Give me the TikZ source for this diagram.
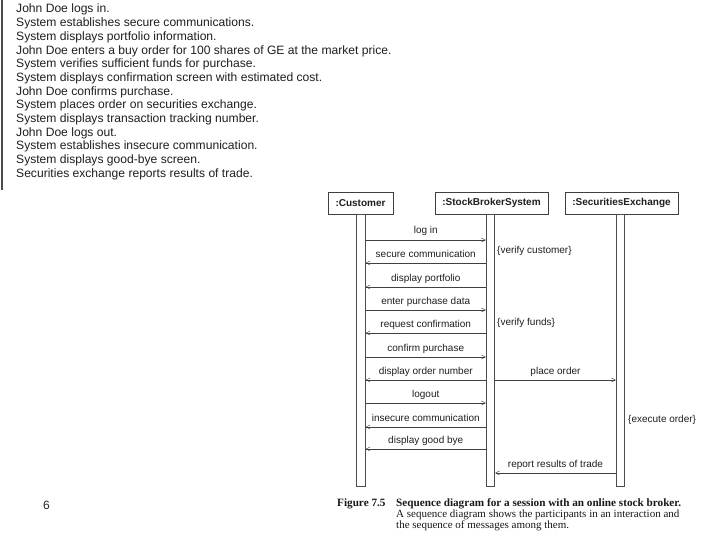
\documentclass[tikz,border=0pt]{standalone}
\usepackage{fontspec}
\setmainfont{Liberation Sans}
\newfontfamily\capfont{Liberation Serif}
\usetikzlibrary{arrows.meta}
\begin{document}
\begin{tikzpicture}[x=1pt,y=-1pt,
  txt/.style={anchor=base west, inner sep=0, font=\fontsize{12.1}{13}\selectfont, text=black!88},
  obj/.style={draw=black!75, line width=0.6pt, minimum height=22pt, inner sep=0, font=\bfseries\fontsize{10}{10}\selectfont, text=black!88},
  bar/.style={draw=black!70, line width=0.6pt, minimum width=8.5pt, minimum height=272pt, inner sep=0},
  msg/.style={draw=black!75, line width=0.5pt, -{Straight Barb[length=4pt,width=4pt]}},
  lbl/.style={font=\fontsize{10}{10}\selectfont, text=black!88, inner sep=0, anchor=base},
  note/.style={font=\fontsize{10}{10}\selectfont, text=black!88, inner sep=0, anchor=base west},
  captxt/.style={font=\capfont\fontsize{11}{11}\selectfont, inner sep=0, anchor=base west, text=black!90},
  capbold/.style={font=\capfont\bfseries\fontsize{11.2}{11}\selectfont, inner sep=0, anchor=base west, text=black!90}
]
\useasboundingbox (0,0) rectangle (720,540);
\fill[white] (0,0) rectangle (720,540);
% left text block
\draw[black!70, line width=1.2pt] (2,0) -- (2,190);
\foreach \t [count=\i from 0] in {
  John Doe logs in.,
  System establishes secure communications.,
  System displays portfolio information.,
  John Doe enters a buy order for 100 shares of GE at the market price.,
  System verifies sufficient funds for purchase.,
  System displays confirmation screen with estimated cost.,
  John Doe confirms purchase.,
  System places order on securities exchange.,
  System displays transaction tracking number.,
  John Doe logs out.,
  System establishes insecure communication.,
  System displays good-bye screen.,
  Securities exchange reports results of trade.}
  \node[txt] (line\i) at (16, 13+13.7*\i) {\t};
% objects
\node[obj, minimum width=65pt] (cust) at (360.5,203) {:Customer};
\node[obj, minimum width=113pt] (sbs) at (491.5,203) {:StockBrokerSystem};
\node[obj, minimum width=113pt] (sec) at (621.5,203) {:SecuritiesExchange};
% activation bars
\node[bar] (cbar) at (361,350) {};
\node[bar] (sbar) at (490.5,350) {};
\node[bar] (ebar) at (620.5,350) {};
% messages
\draw[msg] (cbar.east |- 0,240) -- (sbar.west |- 0,240) node[lbl, midway, above=6.5pt, anchor=base] {log in};
\draw[msg] (sbar.west |- 0,263) -- (cbar.east |- 0,263) node[lbl, midway, above=6pt, anchor=base] {secure communication};
\draw[msg] (sbar.west |- 0,287) -- (cbar.east |- 0,287) node[lbl, midway, above=6pt, anchor=base] {display portfolio};
\draw[msg] (cbar.east |- 0,310) -- (sbar.west |- 0,310) node[lbl, midway, above=6pt, anchor=base] {enter purchase data};
\draw[msg] (sbar.west |- 0,333) -- (cbar.east |- 0,333) node[lbl, midway, above=6pt, anchor=base] {request confirmation};
\draw[msg] (cbar.east |- 0,357) -- (sbar.west |- 0,357) node[lbl, midway, above=6pt, anchor=base] {confirm purchase};
\draw[msg] (sbar.west |- 0,380) -- (cbar.east |- 0,380) node[lbl, midway, above=6pt, anchor=base] {display order number};
\draw[msg] (sbar.east |- 0,380) -- (ebar.west |- 0,380) node[lbl, midway, above=6pt, anchor=base] {place order};
\draw[msg] (cbar.east |- 0,403) -- (sbar.west |- 0,403) node[lbl, midway, above=6pt, anchor=base] {logout};
\draw[msg] (sbar.west |- 0,427) -- (cbar.east |- 0,427) node[lbl, midway, above=6pt, anchor=base] {insecure communication};
\draw[msg] (sbar.west |- 0,449) -- (cbar.east |- 0,449) node[lbl, midway, above=6pt, anchor=base] {display good bye};
\draw[msg] (ebar.west |- 0,473) -- (sbar.east |- 0,473) node[lbl, midway, above=6pt, anchor=base] {report results of trade};
% notes
\node[note] (n1) at (497,253) {\{verify customer\}};
\node[note] (n2) at (497,325) {\{verify funds\}};
\node[note] (n3) at (628,422) {\{execute order\}};
% caption
\node[capbold] (figno) at (337,506) {Figure 7.5};
\node[capbold] (cap1) at (396,506) {Sequence diagram for a session with an online stock broker.};
\node[captxt] (cap2) at (396,517) {A sequence diagram shows the participants in an interaction and};
\node[captxt] (cap3) at (396,528) {the sequence of messages among them.};
% page number
\node[anchor=base west, inner sep=0, font=\fontsize{12}{12}\selectfont, text=black!85] (pg) at (43,509) {6};
\end{tikzpicture}
\end{document}
